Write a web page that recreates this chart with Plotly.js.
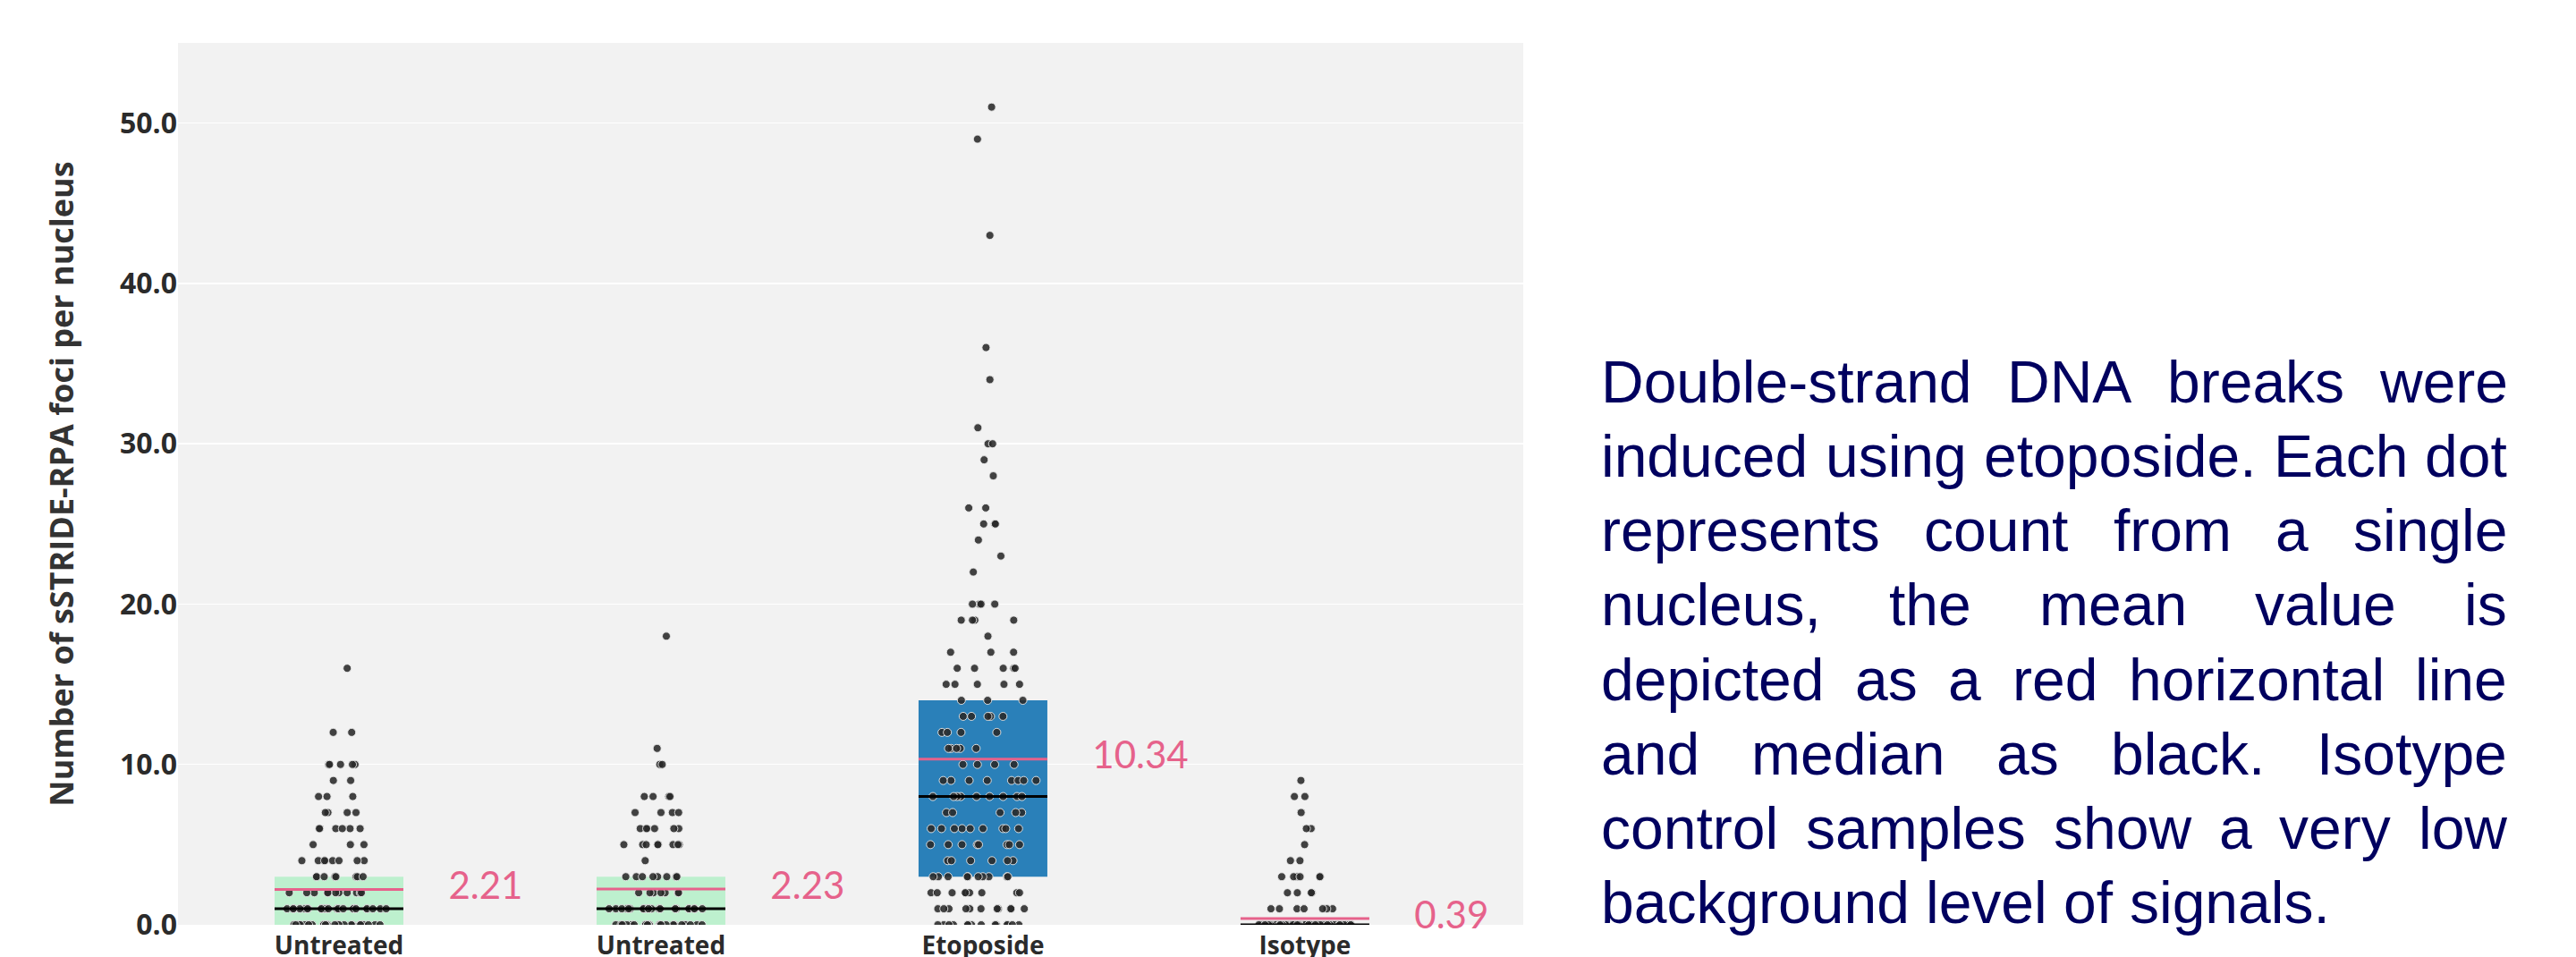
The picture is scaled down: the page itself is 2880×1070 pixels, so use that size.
<!DOCTYPE html>
<html><head><meta charset="utf-8">
<script src="https://cdn.plot.ly/plotly-3.0.1.min.js"></script>
<style>html,body{margin:0;padding:0;background:#fff;}#chart{width:2880px;height:1070px;}</style>
</head><body><div id="chart"></div>
<script>
// ---- data ----
const categories = ['Untreated', 'Untreated', 'Etoposide', 'Isotype'];
const boxQ1 = [0, 0, 3, 0];
const boxQ3 = [3, 3, 14, 0];
const medians = [1, 1, 8, 0];
const means = [2.21, 2.23, 10.34, 0.39];
const meanLabels = ['2.21', '2.23', '10.34', '0.39'];

// foci count per nucleus (level) and how many nuclei show it
const untreatedALevels = [0, 1, 2, 3, 4, 5, 6, 7, 8, 9, 10, 12, 16];
const untreatedACounts = [30, 24, 11, 8, 8, 3, 6, 4, 3, 2, 5, 2, 1];
const untreatedBLevels = [0, 1, 2, 3, 4, 5, 6, 7, 8, 10, 11, 18];
const untreatedBCounts = [26, 20, 7, 8, 1, 8, 6, 4, 4, 2, 1, 1];
const etoposideLevels = [0, 1, 2, 3, 4, 5, 6, 7, 8, 9, 10, 11, 12, 13, 14, 15, 16, 17, 18, 19, 20, 22, 23, 24, 25, 26, 28, 29, 30, 31, 34, 36, 43, 49, 51];
const etoposideCounts = [14, 11, 9, 10, 6, 8, 9, 5, 9, 8, 4, 5, 4, 5, 3, 5, 5, 3, 1, 4, 4, 1, 1, 1, 3, 2, 1, 1, 2, 1, 1, 1, 1, 1, 1];
const isotypeLevels = [0, 1, 2, 3, 4, 5, 6, 7, 8, 9];
const isotypeCounts = [90, 7, 4, 6, 2, 1, 2, 1, 2, 1];

const yTickVals = [0, 10, 20, 30, 40, 50];
const yTitle = 'Number of sSTRIDE-RPA foci per nucleus';
const paragraphLines = [
  'Double-strand DNA breaks were',
  'induced using etoposide. Each dot',
  'represents count from a single',
  'nucleus, the mean value is',
  'depicted as a red horizontal line',
  'and median as black. Isotype',
  'control samples show a very low',
  'background level of signals.'
];

// ---- styles ----
const boxColors = ['#bdf0ce', '#bdf0ce', '#2a80b9', '#c8c8c8'];
const meanColor = '#e6628b';
const boxHalf = 0.2;
const axisFont = 'Open Sans, Arial, sans-serif';

function expand(levels, counts, keep) {
  const out = [];
  levels.forEach((v, i) => { if (keep(v)) for (let k = 0; k < counts[i]; k++) out.push(v); });
  return out;
}
const groupDefs = [
  [untreatedALevels, untreatedACounts],
  [untreatedBLevels, untreatedBCounts],
  [etoposideLevels, etoposideCounts],
  [isotypeLevels, isotypeCounts]
];
const pos = categories.map((c, i) => i);

const traces = [];
traces.push({
  type: 'bar', x: pos, y: boxQ3.map((v, i) => v - boxQ1[i]), base: boxQ1,
  width: 2 * boxHalf, marker: { color: boxColors, line: { width: 0 } },
  hoverinfo: 'skip', showlegend: false
});
function segs(vals) {
  const xs = [], ys = [];
  vals.forEach((v, i) => { xs.push(i - boxHalf, i + boxHalf, null); ys.push(v, v, null); });
  return { xs, ys };
}
const med = segs(medians), mn = segs(means);
traces.push({ type: 'scatter', mode: 'lines', x: med.xs, y: med.ys, line: { color: '#000', width: 3 }, hoverinfo: 'skip', showlegend: false });
traces.push({ type: 'scatter', mode: 'lines', x: mn.xs, y: mn.ys, line: { color: meanColor, width: 3 }, hoverinfo: 'skip', showlegend: false });

const dotStyle = { color: 'rgba(40,40,40,0.88)', size: 9, line: { color: 'rgba(235,235,235,0.9)', width: 1 } };
groupDefs.forEach((gd, i) => {
  // zero row and non-zero rows jittered separately so the sparse rows keep their spread
  [[v => v === 0, 2 * boxHalf], [v => v > 0, 2.3 * boxHalf]].forEach(([keep, w]) => {
    const vals = expand(gd[0], gd[1], keep);
    if (!vals.length) return;
    traces.push({
      type: 'box', y: vals, x0: i, width: w,
      boxpoints: 'all', jitter: 0.72, pointpos: 0,
      fillcolor: 'rgba(0,0,0,0)', line: { width: 0, color: 'rgba(0,0,0,0)' }, whiskerwidth: 0,
      marker: dotStyle, hoverinfo: 'skip', showlegend: false
    });
  });
});

traces.push({
  type: 'scatter', mode: 'text', x: pos.map(p => p + boxHalf + 0.14), y: means,
  text: meanLabels, textposition: 'middle right', cliponaxis: false,
  textfont: { family: 'Lato, sans-serif', size: 42, color: meanColor },
  hoverinfo: 'skip', showlegend: false
});

// ---- justified paragraph as annotations ----
const W = 2880, H = 1070;
const plotL = 199, plotR = 1703, plotT = 48, plotB = 1034;
const pw = plotR - plotL, ph = plotB - plotT;
const paraFontSize = 66;
const paraFamily = 'Liberation Sans';
const paraLeft = 1790, paraRight = 2803, firstBaseline = 450, lineStep = 83.1;
const ctx = document.createElement('canvas').getContext('2d');
ctx.font = paraFontSize + 'px "' + paraFamily + '"';
const spaceW = ctx.measureText(' ').width;
const annotations = [];
paragraphLines.forEach((line, li) => {
  const words = line.split(' ');
  const widths = words.map(w => ctx.measureText(w).width);
  const total = widths.reduce((a, b) => a + b, 0);
  const last = li === paragraphLines.length - 1;
  const gap = (last || words.length < 2) ? spaceW : (paraRight - paraLeft - total) / (words.length - 1);
  let x = paraLeft;
  const baseline = firstBaseline + li * lineStep;
  const yMid = baseline - 0.3465 * paraFontSize;
  words.forEach((w, wi) => {
    annotations.push({
      xref: 'paper', yref: 'paper', x: (x - plotL) / pw, y: (plotB - yMid) / ph,
      xanchor: 'left', yanchor: 'middle', showarrow: false, text: w,
      borderpad: 0, borderwidth: 0,
      font: { family: paraFamily + ', Arial, sans-serif', size: paraFontSize, color: '#00005f' }
    });
    x += widths[wi] + gap;
  });
});

const layout = {
  width: W, height: H,
  margin: { l: plotL, r: W - plotR, t: plotT, b: H - plotB, pad: 0 },
  paper_bgcolor: '#ffffff', plot_bgcolor: '#f2f2f2',
  showlegend: false,
  xaxis: {
    range: [-0.5, 3.678], tickvals: pos, ticktext: categories,
    showgrid: false, zeroline: false, showline: false, ticks: '',
    ticklabelstandoff: 4,
    tickfont: { family: axisFont, size: 28, color: '#2b2b2b', weight: 'bold' },
    fixedrange: true
  },
  yaxis: {
    range: [0, 55], tickvals: yTickVals, tickformat: '.1f',
    showgrid: true, gridcolor: '#ffffff', gridwidth: 1.5,
    zeroline: false, showline: false, ticks: '',
    tickfont: { family: axisFont, size: 32, color: '#2b2b2b', weight: 'bold' },
    title: { text: yTitle, standoff: 40, font: { family: axisFont, size: 36, color: '#333333', weight: 'bold' } },
    automargin: false, fixedrange: true
  },
  annotations: annotations
};

Plotly.newPlot('chart', traces, layout, { displayModeBar: false, staticPlot: true });
</script>
</body></html>
